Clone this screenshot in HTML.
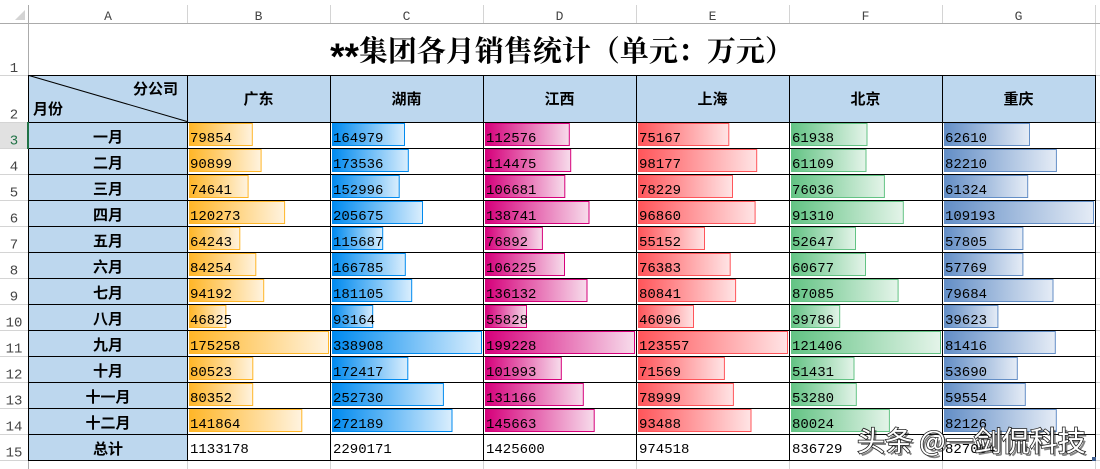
<!DOCTYPE html>
<html><head><meta charset="utf-8"><style>
html,body{margin:0;padding:0;background:#fff;}
svg{display:block;}
</style></head><body>
<svg width="1100" height="469" viewBox="0 0 1100 469" xmlns="http://www.w3.org/2000/svg">
<defs>
<linearGradient id="gO" x1="0" x2="1" y1="0" y2="0"><stop offset="0" stop-color="#FFB628"/><stop offset="1" stop-color="#FFF3DF"/></linearGradient>
<linearGradient id="gB" x1="0" x2="1" y1="0" y2="0"><stop offset="0" stop-color="#008AEF"/><stop offset="1" stop-color="#DAEEFD"/></linearGradient>
<linearGradient id="gM" x1="0" x2="1" y1="0" y2="0"><stop offset="0" stop-color="#D6007B"/><stop offset="1" stop-color="#F7DCEB"/></linearGradient>
<linearGradient id="gR" x1="0" x2="1" y1="0" y2="0"><stop offset="0" stop-color="#FF555A"/><stop offset="1" stop-color="#FFE4E5"/></linearGradient>
<linearGradient id="gG" x1="0" x2="1" y1="0" y2="0"><stop offset="0" stop-color="#63C384"/><stop offset="1" stop-color="#E4F4E9"/></linearGradient>
<linearGradient id="gL" x1="0" x2="1" y1="0" y2="0"><stop offset="0" stop-color="#638EC6"/><stop offset="1" stop-color="#E5ECF6"/></linearGradient>
</defs>
<rect x="0" y="0" width="1100" height="469" fill="#fff"/>

<!-- header area -->
<rect x="0" y="122" width="28" height="26" fill="#E1E1E1"/>
<polygon points="15,20 25,20 25,10" fill="#D4D4D4"/>
<g stroke="#D4D4D4" stroke-width="1" shape-rendering="crispEdges" fill="none">
<path d="M187.5 5V23 M330.5 5V23 M483.5 5V23 M636.5 5V23 M789.5 5V23 M942.5 5V23 M1095.5 5V75"/>
<path d="M0 75.5H28 M0 122.5H28 M0 148.5H28 M0 174.5H28 M0 200.5H28 M0 226.5H28 M0 252.5H28 M0 278.5H28 M0 304.5H28 M0 330.5H28 M0 356.5H28 M0 382.5H28 M0 408.5H28 M0 434.5H28 M0 460.5H28"/>
<path d="M1096 75.5H1100 M1096 122.5H1100 M1096 148.5H1100 M1096 174.5H1100 M1096 200.5H1100 M1096 226.5H1100 M1096 252.5H1100 M1096 278.5H1100 M1096 304.5H1100 M1096 330.5H1100 M1096 356.5H1100 M1096 382.5H1100 M1096 408.5H1100 M1096 434.5H1100 M1096 460.5H1100"/>
<path d="M187.5 461V469 M330.5 461V469 M483.5 461V469 M636.5 461V469 M789.5 461V469 M942.5 461V469 M1095.5 461V469"/>
</g>
<g stroke="#ABABAB" stroke-width="1" shape-rendering="crispEdges" fill="none">
<path d="M0 23.5H1100 M28.5 5V469"/>
</g>

<!-- column letters -->
<g font-family="Liberation Mono, monospace" font-size="13" fill="#444" text-anchor="middle">
<text x="108" y="20">A</text><text x="258.5" y="20">B</text><text x="406.5" y="20">C</text><text x="559.5" y="20">D</text><text x="712.5" y="20">E</text><text x="865.5" y="20">F</text><text x="1018.5" y="20">G</text>
</g>
<!-- row numbers -->
<g font-family="Liberation Mono, monospace" font-size="14" fill="#444" text-anchor="middle">
<text x="14" y="72">1</text><text x="14" y="118.5">2</text><text x="14" y="144.5" fill="#217346">3</text><text x="14" y="170.5">4</text><text x="14" y="196.5">5</text><text x="14" y="222.5">6</text><text x="14" y="248.5">7</text><text x="14" y="274.5">8</text><text x="14" y="300.5">9</text><text x="14" y="326.5">10</text><text x="14" y="352.5">11</text><text x="14" y="378.5">12</text><text x="14" y="404.5">13</text><text x="14" y="430.5">14</text><text x="14" y="456.5">15</text><text x="14" y="478">16</text>
</g>

<!-- blue fills -->
<rect x="28" y="75" width="159" height="386" fill="#BDD7EE"/>
<rect x="187" y="75" width="908" height="47" fill="#BDD7EE"/>

<!-- data bars -->
<g stroke-width="1">
<g stroke="#FFB628" fill="url(#gO)">
<rect x="189.5" y="123.5" width="62.8" height="22"/>
<rect x="189.5" y="149.5" width="71.6" height="22"/>
<rect x="189.5" y="175.5" width="58.6" height="22"/>
<rect x="189.5" y="201.5" width="95.1" height="22"/>
<rect x="189.5" y="227.5" width="50.3" height="22"/>
<rect x="189.5" y="253.5" width="66.3" height="22"/>
<rect x="189.5" y="279.5" width="74.2" height="22"/>
<rect x="189.5" y="305.5" width="36.4" height="22"/>
<rect x="189.5" y="331.5" width="139" height="22"/>
<rect x="189.5" y="357.5" width="63.3" height="22"/>
<rect x="189.5" y="383.5" width="63.2" height="22"/>
<rect x="189.5" y="409.5" width="112.3" height="22"/>
</g>
<g stroke="#008AEF" fill="url(#gB)">
<rect x="332.5" y="123.5" width="72.0" height="22"/>
<rect x="332.5" y="149.5" width="75.8" height="22"/>
<rect x="332.5" y="175.5" width="66.7" height="22"/>
<rect x="332.5" y="201.5" width="90.0" height="22"/>
<rect x="332.5" y="227.5" width="50.2" height="22"/>
<rect x="332.5" y="253.5" width="72.8" height="22"/>
<rect x="332.5" y="279.5" width="79.2" height="22"/>
<rect x="332.5" y="305.5" width="40.2" height="22"/>
<rect x="332.5" y="331.5" width="149" height="22"/>
<rect x="332.5" y="357.5" width="75.3" height="22"/>
<rect x="332.5" y="383.5" width="110.9" height="22"/>
<rect x="332.5" y="409.5" width="119.5" height="22"/>
</g>
<g stroke="#D6007B" fill="url(#gM)">
<rect x="485.5" y="123.5" width="83.8" height="22"/>
<rect x="485.5" y="149.5" width="85.2" height="22"/>
<rect x="485.5" y="175.5" width="79.3" height="22"/>
<rect x="485.5" y="201.5" width="103.5" height="22"/>
<rect x="485.5" y="227.5" width="56.9" height="22"/>
<rect x="485.5" y="253.5" width="79.0" height="22"/>
<rect x="485.5" y="279.5" width="101.5" height="22"/>
<rect x="485.5" y="305.5" width="41.0" height="22"/>
<rect x="485.5" y="331.5" width="149" height="22"/>
<rect x="485.5" y="357.5" width="75.8" height="22"/>
<rect x="485.5" y="383.5" width="97.8" height="22"/>
<rect x="485.5" y="409.5" width="108.7" height="22"/>
</g>
<g stroke="#FF555A" fill="url(#gR)">
<rect x="638.5" y="123.5" width="90.3" height="22"/>
<rect x="638.5" y="149.5" width="118.2" height="22"/>
<rect x="638.5" y="175.5" width="94.0" height="22"/>
<rect x="638.5" y="201.5" width="116.6" height="22"/>
<rect x="638.5" y="227.5" width="66.0" height="22"/>
<rect x="638.5" y="253.5" width="91.7" height="22"/>
<rect x="638.5" y="279.5" width="97.1" height="22"/>
<rect x="638.5" y="305.5" width="55.0" height="22"/>
<rect x="638.5" y="331.5" width="149" height="22"/>
<rect x="638.5" y="357.5" width="85.9" height="22"/>
<rect x="638.5" y="383.5" width="94.9" height="22"/>
<rect x="638.5" y="409.5" width="112.5" height="22"/>
</g>
<g stroke="#63C384" fill="url(#gG)">
<rect x="791.5" y="123.5" width="75.5" height="22"/>
<rect x="791.5" y="149.5" width="74.5" height="22"/>
<rect x="791.5" y="175.5" width="92.9" height="22"/>
<rect x="791.5" y="201.5" width="111.8" height="22"/>
<rect x="791.5" y="227.5" width="64.0" height="22"/>
<rect x="791.5" y="253.5" width="74.0" height="22"/>
<rect x="791.5" y="279.5" width="106.6" height="22"/>
<rect x="791.5" y="305.5" width="48.2" height="22"/>
<rect x="791.5" y="331.5" width="149" height="22"/>
<rect x="791.5" y="357.5" width="62.5" height="22"/>
<rect x="791.5" y="383.5" width="64.8" height="22"/>
<rect x="791.5" y="409.5" width="97.9" height="22"/>
</g>
<g stroke="#638EC6" fill="url(#gL)">
<rect x="944.5" y="123.5" width="85.0" height="22"/>
<rect x="944.5" y="149.5" width="111.9" height="22"/>
<rect x="944.5" y="175.5" width="83.2" height="22"/>
<rect x="944.5" y="201.5" width="149" height="22"/>
<rect x="944.5" y="227.5" width="78.4" height="22"/>
<rect x="944.5" y="253.5" width="78.4" height="22"/>
<rect x="944.5" y="279.5" width="108.5" height="22"/>
<rect x="944.5" y="305.5" width="53.4" height="22"/>
<rect x="944.5" y="331.5" width="110.8" height="22"/>
<rect x="944.5" y="357.5" width="72.8" height="22"/>
<rect x="944.5" y="383.5" width="80.8" height="22"/>
<rect x="944.5" y="409.5" width="111.8" height="22"/>
</g>
</g>

<!-- black borders -->
<g stroke="#000" stroke-width="1" shape-rendering="crispEdges" fill="none">
<path d="M28 75.5H1096 M28 122.5H1096 M28 148.5H1096 M28 174.5H1096 M28 200.5H1096 M28 226.5H1096 M28 252.5H1096 M28 278.5H1096 M28 304.5H1096 M28 330.5H1096 M28 356.5H1096 M28 382.5H1096 M28 408.5H1096 M28 434.5H1096 M28 460.5H1096"/>
<path d="M28.5 75V461 M187.5 75V461 M330.5 75V461 M483.5 75V461 M636.5 75V461 M789.5 75V461 M942.5 75V461 M1095.5 75V461"/>
</g>
<line x1="29" y1="75.5" x2="187" y2="121.5" stroke="#000" stroke-width="1"/>
<rect x="27" y="122" width="2" height="27" fill="#217346"/>
<rect x="1092" y="457" width="4" height="4" fill="#3F5F8F"/>

<!-- title -->
<text x="562" y="61" text-anchor="middle" font-family="Noto Serif CJK SC, serif" font-weight="bold" font-size="29" fill="#000"><tspan font-family="Liberation Sans, sans-serif" font-size="37" dy="8">**</tspan><tspan dy="-8">集团各月销售统计（单元：万元）</tspan></text>

<!-- header labels -->
<g font-family="Noto Sans CJK SC, sans-serif" font-weight="bold" font-size="15" fill="#000">
<text x="178" y="94" text-anchor="end">分公司</text>
<text x="33" y="114">月份</text>
<g text-anchor="middle">
<text x="258.5" y="104">广东</text><text x="406.5" y="104">湖南</text><text x="559.5" y="104">江西</text><text x="712.5" y="104">上海</text><text x="865.5" y="104">北京</text><text x="1018.5" y="104">重庆</text>
<text x="108" y="142">一月</text><text x="108" y="168">二月</text><text x="108" y="194">三月</text><text x="108" y="220">四月</text><text x="108" y="246">五月</text><text x="108" y="272">六月</text><text x="108" y="298">七月</text><text x="108" y="324">八月</text><text x="108" y="350">九月</text><text x="108" y="376">十月</text><text x="108" y="402">十一月</text><text x="108" y="428">十二月</text><text x="108" y="454">总计</text>
</g>
</g>

<!-- numbers -->
<g font-family="Liberation Mono, monospace" font-size="14" fill="#000">
<text x="190" y="142">79854</text><text x="333" y="142">164979</text><text x="486" y="142">112576</text><text x="639" y="142">75167</text><text x="792" y="142">61938</text><text x="945" y="142">62610</text>
<text x="190" y="168">90899</text><text x="333" y="168">173536</text><text x="486" y="168">114475</text><text x="639" y="168">98177</text><text x="792" y="168">61109</text><text x="945" y="168">82210</text>
<text x="190" y="194">74641</text><text x="333" y="194">152996</text><text x="486" y="194">106681</text><text x="639" y="194">78229</text><text x="792" y="194">76036</text><text x="945" y="194">61324</text>
<text x="190" y="220">120273</text><text x="333" y="220">205675</text><text x="486" y="220">138741</text><text x="639" y="220">96860</text><text x="792" y="220">91310</text><text x="945" y="220">109193</text>
<text x="190" y="246">64243</text><text x="333" y="246">115687</text><text x="486" y="246">76892</text><text x="639" y="246">55152</text><text x="792" y="246">52647</text><text x="945" y="246">57805</text>
<text x="190" y="272">84254</text><text x="333" y="272">166785</text><text x="486" y="272">106225</text><text x="639" y="272">76383</text><text x="792" y="272">60677</text><text x="945" y="272">57769</text>
<text x="190" y="298">94192</text><text x="333" y="298">181105</text><text x="486" y="298">136132</text><text x="639" y="298">80841</text><text x="792" y="298">87085</text><text x="945" y="298">79684</text>
<text x="190" y="324">46825</text><text x="333" y="324">93164</text><text x="486" y="324">55828</text><text x="639" y="324">46096</text><text x="792" y="324">39786</text><text x="945" y="324">39623</text>
<text x="190" y="350">175258</text><text x="333" y="350">338908</text><text x="486" y="350">199228</text><text x="639" y="350">123557</text><text x="792" y="350">121406</text><text x="945" y="350">81416</text>
<text x="190" y="376">80523</text><text x="333" y="376">172417</text><text x="486" y="376">101993</text><text x="639" y="376">71569</text><text x="792" y="376">51431</text><text x="945" y="376">53690</text>
<text x="190" y="402">80352</text><text x="333" y="402">252730</text><text x="486" y="402">131166</text><text x="639" y="402">78999</text><text x="792" y="402">53280</text><text x="945" y="402">59554</text>
<text x="190" y="428">141864</text><text x="333" y="428">272189</text><text x="486" y="428">145663</text><text x="639" y="428">93488</text><text x="792" y="428">80024</text><text x="945" y="428">82126</text>
<text x="190" y="453">1133178</text><text x="333" y="453">2290171</text><text x="486" y="453">1425600</text><text x="639" y="453">974518</text><text x="792" y="453">836729</text><text x="945" y="453">827004</text>
</g>

<!-- watermark -->
<g font-family="Noto Sans CJK SC, sans-serif" font-size="28">
<text x="858" y="452" fill="#222" opacity="0.55" transform="translate(1.5,1.5)">头条 @一剑侃科技</text>
<text x="857" y="451" fill="#fff" stroke="#222" stroke-width="1.6" paint-order="stroke">头条 @一剑侃科技</text>
</g>
</svg>
</body></html>
